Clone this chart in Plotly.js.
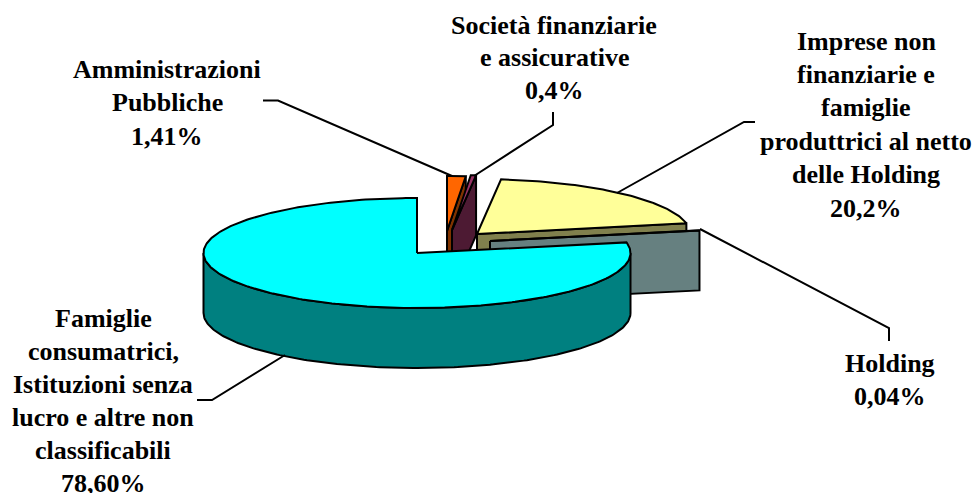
<!DOCTYPE html>
<html>
<head>
<meta charset="utf-8">
<script src="https://cdn.plot.ly/plotly-3.0.1.min.js"></script>
<style>html,body{margin:0;padding:0;background:#fff}#c{width:977px;height:493px}</style>
</head>
<body>
<div id="c"></div>
<script>
// Data
const categories = ["Amministrazioni Pubbliche","Società finanziarie e assicurative","Imprese non finanziarie e famiglie produttrici al netto delle Holding","Holding","Famiglie consumatrici, Istituzioni senza lucro e altre non classificabili"];
const values = [1.41, 0.4, 20.2, 0.04, 78.6];

// Label text, one list of lines per slice
const labelLines = [
  ["Amministrazioni","Pubbliche","1,41%"],
  ["Società finanziarie","e assicurative","0,4%"],
  ["Imprese non","finanziarie e","famiglie","produttrici al netto","delle Holding","20,2%"],
  ["Holding","0,04%"],
  ["Famiglie","consumatrici,","Istituzioni senza","lucro e altre non","classificabili","78,60%"]
];

// Styles and layout (kept apart from the values)
const topColors  = ["#FF6600","#993366","#FFFF99","#CCFFFF","#00FFFF"];
const wallColors = ["#803300","#4D1A33","#80804D","#668080","#008080"];
const apexX = [447, 452, 477, 490, 417];
const apexY = [231, 230, 234, 241, 253];
const labelX = [167, 554, 866, 890, 103];
const labelY = [69, 25, 41, 363.5, 318.5];
const labelStep = [33.5, 32.5, 33.4, 33, 33];
const leaderX = [[263,278,452],[553,553,474],[755,744,617],[700,889,889],[197,212,285]];
const leaderY = [[100.5,100.5,176],[112,125,176],[122,122,193],[229,328,341],[400,400,355]];
const RX = 213.5, RY = 55, DEPTH = 60, LW = 2;

const total = values.reduce((a,b)=>a+b,0);
const rad = d => d*Math.PI/180;
const px = (i,a) => apexX[i] + RX*Math.sin(rad(a));
const py = (i,a) => apexY[i] - RY*Math.cos(rad(a));

let cum = 0;
const starts = [], ends = [];
values.forEach(v => { starts.push(cum); cum += v/total*360; ends.push(cum); });

function arc(i,a0,a1,dy){
  const n = Math.max(1, Math.ceil(Math.abs(a1-a0)));
  const xs=[], ys=[];
  for(let k=0;k<=n;k++){ const a=a0+(a1-a0)*k/n; xs.push(px(i,a)); ys.push(py(i,a)+dy); }
  return {xs,ys};
}
function poly(xs,ys,fill,name){
  return {type:"scatter",mode:"lines",x:xs,y:ys,fill:"toself",fillcolor:fill,name:name,
    line:{color:"#000",width:LW,shape:"linear"},hoverinfo:"name",showlegend:false};
}

const traces = [];
values.forEach((v,i)=>{
  if(i < values.length-1){
    // radial wall seen at the clockwise end of the slice
    const e = ends[i];
    traces.push(poly(
      [apexX[i],px(i,e),px(i,e),apexX[i],apexX[i]],
      [apexY[i],py(i,e),py(i,e)+DEPTH,apexY[i]+DEPTH,apexY[i]],
      wallColors[i],categories[i]));
  } else {
    // outer rim, visible front half of the largest slice
    const a = arc(i,90,270,0), b = arc(i,270,90,DEPTH);
    traces.push(poly(a.xs.concat(b.xs,[a.xs[0]]),a.ys.concat(b.ys,[a.ys[0]]),wallColors[i],categories[i]));
  }
  const t = arc(i,starts[i],ends[i],0);
  traces.push(poly([apexX[i]].concat(t.xs,[apexX[i]]),[apexY[i]].concat(t.ys,[apexY[i]]),topColors[i],categories[i]));
});

leaderX.forEach((xs,i)=>{
  traces.push({type:"scatter",mode:"lines",x:xs,y:leaderY[i],line:{color:"#000",width:LW},hoverinfo:"skip",showlegend:false});
});

const annotations = [];
labelLines.forEach((lines,i)=>{
  lines.forEach((txt,j)=>{
    annotations.push({x:labelX[i],y:labelY[i]+j*labelStep[i],xref:"x",yref:"y",text:"<b>"+txt+"</b>",showarrow:false,
      xanchor:"center",yanchor:"middle",borderpad:0,
      font:{family:"'Liberation Serif','Times New Roman',serif",size:26,color:"#000"}});
  });
});

const hidden = {visible:false,fixedrange:true};
Plotly.newPlot("c",traces,{
  width:977,height:493,margin:{l:0,r:0,t:0,b:0},
  paper_bgcolor:"#fff",plot_bgcolor:"#fff",showlegend:false,
  xaxis:Object.assign({range:[0,977]},hidden),
  yaxis:Object.assign({range:[493,0]},hidden),
  annotations:annotations
},{displayModeBar:false,staticPlot:true});
</script>
</body>
</html>
